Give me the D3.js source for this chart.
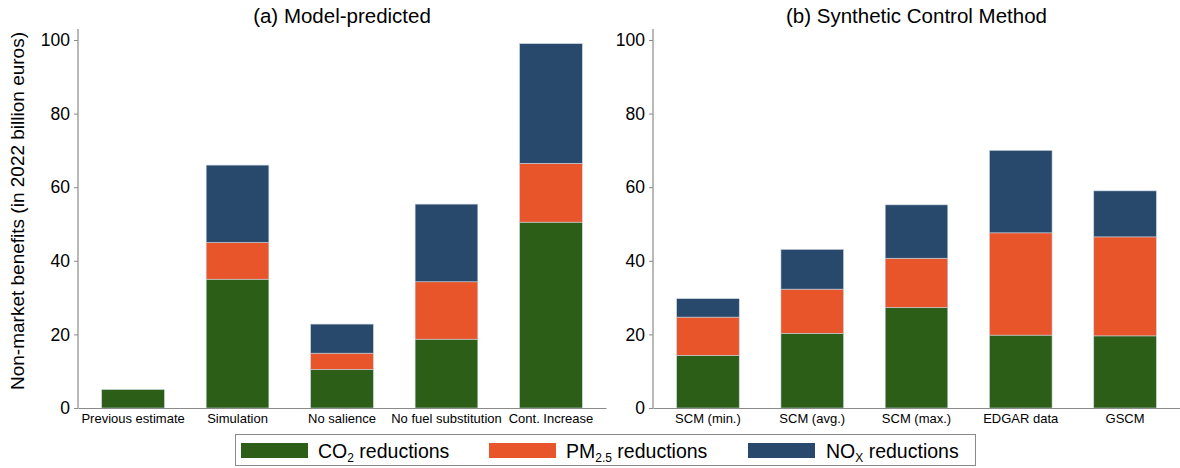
<!DOCTYPE html>
<html>
<head>
<meta charset="utf-8">
<script src="https://cdn.jsdelivr.net/npm/d3@7"></script>
<style>
  html, body { margin: 0; padding: 0; background: #fff; }
  svg { display: block; font-family: "Liberation Sans", Arial, Helvetica, sans-serif; }
</style>
</head>
<body>
<svg id="chart" width="1180" height="468"></svg>
<script>
// ---- data ----
const catsA = ["Previous estimate", "Simulation", "No salience", "No fuel substitution", "Cont. Increase"];
const co2A  = [5, 35, 10.5, 18.7, 50.5];
const pmA   = [0, 10, 4.4, 15.6, 16.0];
const noxA  = [0, 21, 7.9, 21.1, 32.5];

const catsB = ["SCM (min.)", "SCM (avg.)", "SCM (max.)", "EDGAR data", "GSCM"];
const co2B  = [14.3, 20.3, 27.3, 19.8, 19.6];
const pmB   = [10.4, 12.0, 13.4, 27.8, 26.9];
const noxB  = [5.0, 10.8, 14.5, 22.4, 12.5];

const yTicks = [0, 20, 40, 60, 80, 100];
const titles = ["(a) Model-predicted", "(b) Synthetic Control Method"];
const seriesKeys = ["co2", "pm", "nox"];
const colors = { co2: "#2c5e18", pm: "#e8552a", nox: "#28486c" };

// ---- layout ----
const svg = d3.select("#chart");
const y0 = 408, y100 = 40, axisTop = 29;
const y = d3.scaleLinear().domain([0, 100]).range([y0, y100]);

function panel(cats, co2, pm, nox, x0, x1, title) {
  const g = svg.append("g");
  const x = d3.scaleBand().domain(cats).range([x0, x1]).paddingInner(0.4).paddingOuter(0.227);
  const rows = cats.map((c, i) => ({ cat: c, co2: co2[i], pm: pm[i], nox: nox[i] }));
  const stack = d3.stack().keys(seriesKeys)(rows);

  // bars
  g.selectAll("g.series").data(stack).join("g")
    .attr("fill", d => colors[d.key])
    .selectAll("rect").data(d => d.filter(p => p[1] - p[0] > 0)).join("rect")
    .attr("x", d => x(d.data.cat))
    .attr("width", x.bandwidth())
    .attr("y", d => y(d[1]))
    .attr("height", d => y(d[0]) - y(d[1]))
    .attr("stroke", "#c9d2dc")
    .attr("stroke-width", 0.6);

  // y axis
  const ya = g.append("g").attr("transform", `translate(${x0},0)`)
    .call(d3.axisLeft(y).tickValues(yTicks).tickSize(4).tickPadding(4));
  ya.select(".domain").remove();
  ya.selectAll(".tick line").attr("stroke", "#8a8a8a");
  ya.selectAll(".tick text").attr("font-size", "17.5px").attr("fill", "#000")
    .attr("font-family", "Liberation Sans, Arial, sans-serif");
  g.append("line").attr("x1", x0).attr("x2", x0).attr("y1", axisTop).attr("y2", y0 + 0.5)
    .attr("stroke", "#8a8a8a").attr("stroke-width", 1.2);

  // x axis
  const xa = g.append("g").attr("transform", `translate(0,${y0})`)
    .call(d3.axisBottom(x).tickSize(0).tickPadding(5.5));
  xa.select(".domain").attr("stroke", "#8a8a8a").attr("stroke-width", 1.2);
  xa.selectAll(".tick text").attr("font-size", "13px").attr("fill", "#000")
    .attr("font-family", "Liberation Sans, Arial, sans-serif");

  // title
  svg.append("text").attr("x", (x0 + x1) / 2).attr("y", 23)
    .attr("text-anchor", "middle").attr("font-size", "20.5px").attr("fill", "#000")
    .text(title);
}

panel(catsA, co2A, pmA, noxA, 78, 606, titles[0]);
panel(catsB, co2B, pmB, noxB, 653, 1180, titles[1]);

// y label
svg.append("text")
  .attr("transform", "translate(24,211) rotate(-90)")
  .attr("text-anchor", "middle").attr("font-size", "19px").attr("fill", "#000")
  .text("Non-market benefits (in 2022 billion euros)");

// legend
const lg = svg.append("g");
lg.append("rect").attr("x", 235.5).attr("y", 434.5).attr("width", 740).attr("height", 31)
  .attr("fill", "#fff").attr("stroke", "#8a8a8a").attr("stroke-width", 1);
const legendItems = [
  { key: "co2", sx: 241, tx: 318, main: "CO", sub: "2", rest: " reductions" },
  { key: "pm",  sx: 489, tx: 566, main: "PM", sub: "2.5", rest: " reductions" },
  { key: "nox", sx: 748, tx: 826, main: "NO", sub: "X", rest: " reductions" }
];
legendItems.forEach(it => {
  lg.append("rect").attr("x", it.sx).attr("y", 443).attr("width", 67).attr("height", 15)
    .attr("fill", colors[it.key]);
  const t = lg.append("text").attr("x", it.tx).attr("y", 458).attr("font-size", "19.5px").attr("fill", "#000");
  t.append("tspan").text(it.main);
  t.append("tspan").attr("font-size", "12px").attr("dy", 4).text(it.sub);
  t.append("tspan").attr("dy", -4).text(it.rest);
});
</script>
</body>
</html>
